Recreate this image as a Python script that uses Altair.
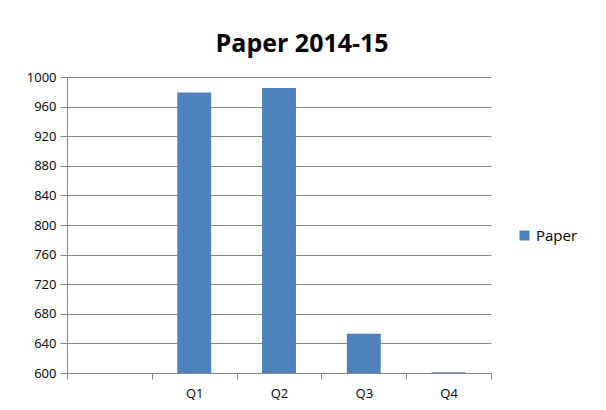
import altair as alt
import pandas as pd

categories = ["", "Q1", "Q2", "Q3", "Q4"]
bar_quarters = ["Q1", "Q2", "Q3", "Q4"]
paper_values = [979, 985, 653, 601]
series_name = "Paper"
y_ticks = [600, 640, 680, 720, 760, 800, 840, 880, 920, 960, 1000]

df = pd.DataFrame({"quarter": bar_quarters, "value": paper_values, "series": series_name})

FONT = "Open Sans"
GRAY = "#868686"

chart = alt.Chart(df).mark_bar(clip=True, width=alt.RelativeBandSize(0.4)).encode(
    x=alt.X("quarter:N", sort=categories,
            scale=alt.Scale(domain=categories, paddingInner=0, paddingOuter=0),
            axis=alt.Axis(title=None, labelAngle=0, tickBand="extent", tickSize=6,
                          domain=True, domainColor=GRAY, tickColor=GRAY, labelPadding=8,
                          grid=False)),
    y=alt.Y("value:Q", scale=alt.Scale(domain=[600, 1000], nice=False, zero=False),
            axis=alt.Axis(title=None, values=y_ticks, format="d", tickSize=7, tickColor=GRAY,
                          domain=True, domainColor=GRAY, gridColor=GRAY, labelPadding=4)),
    color=alt.Color("series:N", scale=alt.Scale(range=["#4F81BD"]),
                    legend=alt.Legend(title=None, orient="none", legendX=450, legendY=151,
                                      symbolType="square", symbolSize=100,
                                      labelFontSize=15, labelFont=FONT, labelColor="#000000")),
).properties(
    width=424, height=296,
    title=alt.Title("Paper 2014-15", fontSize=25, font=FONT, fontWeight="bold",
                    anchor="middle", frame="bounds", offset=14, color="#000000"),
    padding={"left": 18, "top": 24, "right": 10, "bottom": 10},
).configure_view(stroke=None).configure_axis(
    labelFont=FONT, labelFontSize=13, labelColor="#000000", gridWidth=1, domainWidth=1
)

chart.save("out.html", embed_options={"renderer": "svg", "actions": False})
